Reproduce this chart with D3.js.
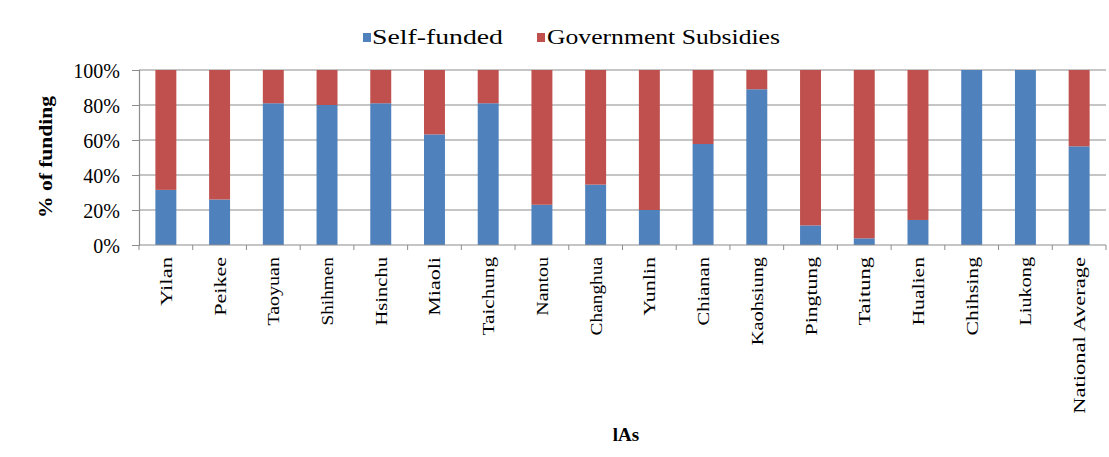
<!DOCTYPE html>
<html><head><meta charset="utf-8">
<script src="https://cdn.jsdelivr.net/npm/d3@7"></script>
<style>body{margin:0;background:#fff;}svg{display:block;}</style>
</head><body>
<script>
const categories = ["Yilan","Peikee","Taoyuan","Shihmen","Hsinchu","Miaoli","Taichung","Nantou","Changhua","Yunlin","Chianan","Kaohsiung","Pingtung","Taitung","Hualien","Chihsing","Liukong","National Average"];
const selfFunded = [31.5,26,81,80,81,63.2,81,23,34.5,20,57.7,89,11.2,3.8,14.3,100,100,56.4];
const govSubsidies = selfFunded.map(v => 100 - v);
const yTicks = [0,20,40,60,80,100];
const seriesNames = ["Self-funded","Government Subsidies"];
const colors = ["#4F81BD","#C0504D"];

const W = 1109, H = 457;
const m = {left:139, right:1106, top:70, bottom:245};
const svg = d3.select("body").append("svg").attr("width",W).attr("height",H);

const x = d3.scaleBand().domain(categories).range([m.left,m.right]).paddingInner(0.61).paddingOuter(0.305);
const xb = d3.scaleBand().domain(categories).range([m.left,m.right]);
const y = d3.scaleLinear().domain([0,100]).range([m.bottom,m.top]);

// gridlines
svg.append("g").selectAll("line").data(yTicks.filter(d=>d>0)).join("line")
  .attr("x1",m.left).attr("x2",m.right).attr("y1",d=>y(d)).attr("y2",d=>y(d))
  .attr("stroke","#8c8c8c").attr("stroke-width",1.2);

const rows = categories.map((c,i)=>({cat:c, s:selfFunded[i], g:govSubsidies[i]}));
const stack = d3.stack().keys(["s","g"])(rows);
svg.append("g").selectAll("g").data(stack).join("g").attr("fill",(d,i)=>colors[i])
  .selectAll("rect").data(d=>d).join("rect")
  .attr("x",d=>x(d.data.cat)).attr("width",x.bandwidth())
  .attr("y",d=>y(d[1])).attr("height",d=>y(d[0])-y(d[1]));

// y axis
const ya = svg.append("g").attr("transform",`translate(${m.left},0)`)
  .call(d3.axisLeft(y).tickValues(yTicks).tickSize(7).tickPadding(12).tickFormat(d=>d+"%"));
ya.select(".domain").attr("stroke","#8c8c8c").attr("stroke-width",1.2);
ya.selectAll(".tick line").attr("stroke","#8c8c8c");
ya.selectAll("text").attr("font-family","Liberation Serif").attr("font-size",20).attr("fill","#000").attr("dy","0.35em");

// x axis with ticks at band boundaries
const xa = svg.append("g").attr("transform",`translate(0,${m.bottom})`);
xa.append("line").attr("x1",m.left).attr("x2",m.right).attr("stroke","#8c8c8c").attr("stroke-width",1.2);
xa.selectAll("line.t").data(categories.concat(["__end"])).join("line").attr("class","t")
  .attr("x1",(d,i)=>m.left+i*xb.step()).attr("x2",(d,i)=>m.left+i*xb.step())
  .attr("y1",0).attr("y2",5).attr("stroke","#8c8c8c");
xa.selectAll("text").data(categories).join("text")
  .attr("transform",d=>`translate(${xb(d)+xb.bandwidth()/2+6},12) rotate(-90)`)
  .attr("text-anchor","end").attr("font-family","Liberation Serif").attr("font-size",17)
  .attr("textLength",d=>d.length*9.8).attr("lengthAdjust","spacingAndGlyphs")
  .text(d=>d);

// y title
svg.append("text").attr("transform",`translate(52,157) rotate(-90)`)
  .attr("text-anchor","middle").attr("font-family","Liberation Serif").attr("font-weight","bold")
  .attr("font-size",18).attr("textLength",122).attr("lengthAdjust","spacingAndGlyphs").text("% of funding");

// x title
svg.append("text").attr("x",626).attr("y",441).attr("text-anchor","middle")
  .attr("font-family","Liberation Serif").attr("font-weight","bold").attr("font-size",19).text("lAs");

// legend
const leg = [{x:363, tx:372, len:131},{x:537, tx:547, len:233}];
const lg = svg.append("g");
lg.selectAll("rect").data(seriesNames).join("rect")
  .attr("x",(d,i)=>leg[i].x).attr("y",33).attr("width",8).attr("height",9).attr("fill",(d,i)=>colors[i]);
lg.selectAll("text").data(seriesNames).join("text")
  .attr("x",(d,i)=>leg[i].tx).attr("y",44).attr("font-family","Liberation Serif").attr("font-size",20)
  .attr("textLength",(d,i)=>leg[i].len).attr("lengthAdjust","spacingAndGlyphs").text(d=>d);
</script>
</body></html>
